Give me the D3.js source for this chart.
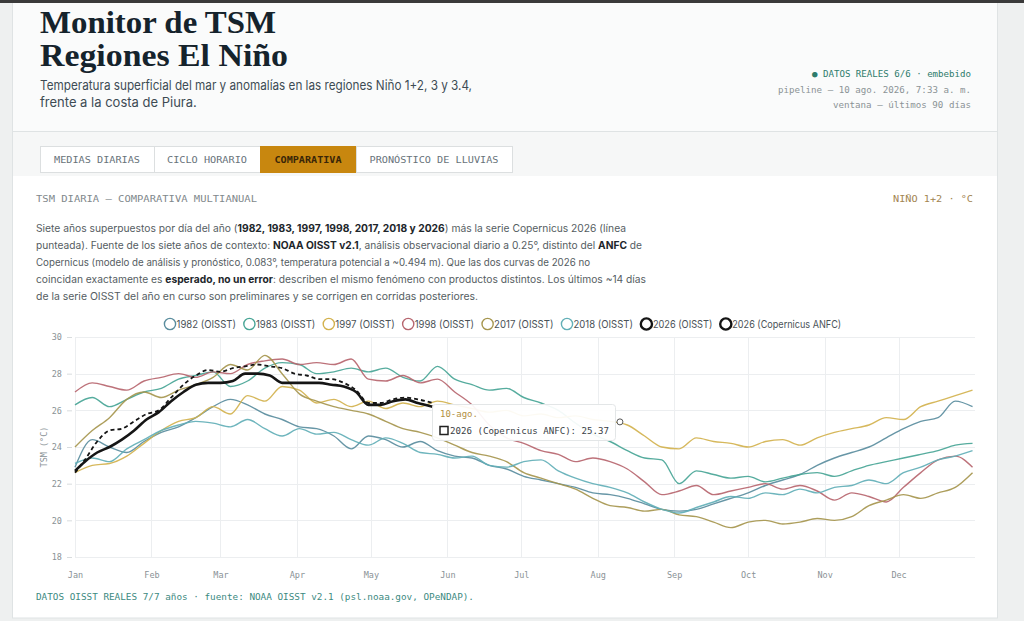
<!DOCTYPE html>
<html><head><meta charset="utf-8">
<script src="https://cdn.jsdelivr.net/npm/d3@7"></script>
<style>
html,body{margin:0;padding:0;background:#eef0f0;overflow:hidden;}
svg{display:block;}
</style></head><body>
<svg id="c" width="1024" height="621"></svg>
<script>
// ---------- DATA ----------
const days = [1,8,15,22,29,36,43,50,57,64,71,78,85,92,99,106,113,120,127,134,141,148,155,162,169,176,183,190,197,204,211,218,225,232,239,246,253,260,267,274,281,288,295,302,309,316,323,330,337,344,351,358,365];
const y1982 = [22.9,24.4,24.0,23.7,24.3,24.8,25.1,25.6,26.2,26.6,26.3,25.8,25.5,25.1,25.0,24.6,23.9,24.6,24.4,24.0,24.3,23.8,23.5,23.4,23.0,22.8,22.4,22.2,22.0,21.8,21.5,21.4,21.2,20.9,20.6,20.5,20.6,20.9,21.2,21.5,21.9,22.2,22.5,23.0,23.4,23.7,24.0,24.5,25.0,25.4,25.6,26.5,26.2];
const y1983 = [26.3,26.7,26.2,26.6,27.0,27.2,27.7,27.9,28.1,27.3,27.6,28.3,28.6,28.5,28.0,28.1,28.3,28.1,28.3,27.8,27.6,28.4,27.7,27.4,27.1,27.2,26.7,26.4,26.0,25.3,24.7,24.3,23.8,23.4,23.3,22.0,22.7,22.5,22.3,22.4,22.1,22.3,22.5,22.6,22.4,22.7,23.0,23.2,23.4,23.6,23.8,24.1,24.2];
const y1997 = [22.6,23.0,23.1,23.5,24.2,24.9,25.4,25.6,26.2,25.8,26.8,26.5,27.3,27.1,26.4,26.6,26.2,26.5,26.1,26.4,26.2,26.5,26.3,26.1,25.9,26.0,25.7,25.8,25.6,25.7,25.5,25.4,25.2,24.6,24.0,23.9,24.5,24.3,24.2,24.0,24.3,24.4,24.1,24.5,24.8,25.0,25.2,25.6,25.5,26.2,26.5,26.8,27.1];
const y1998 = [27.0,27.5,27.3,27.1,27.6,27.8,28.0,27.8,28.1,28.0,28.5,28.7,28.8,28.5,28.6,28.5,28.8,27.7,27.6,27.9,27.5,27.7,27.0,26.3,25.2,24.5,24.2,23.8,23.6,23.2,23.4,23.2,22.8,22.1,21.4,21.6,21.9,21.4,21.6,21.8,22.0,21.7,21.9,21.6,21.1,21.5,21.3,21.0,21.8,22.6,23.3,23.5,22.9];
const y2017 = [24.0,24.9,25.6,26.6,27.0,26.7,27.1,27.4,27.8,28.5,28.2,29.0,28.0,26.9,26.5,26.2,26.0,25.8,25.4,25.0,24.8,24.5,24.1,23.7,23.5,23.2,22.6,22.3,22.0,21.7,21.2,20.8,20.7,20.5,20.6,20.3,20.2,19.9,19.6,19.9,20.0,19.8,19.9,20.1,20.0,20.2,20.8,21.1,21.4,21.2,21.5,21.8,22.6];
const y2018 = [23.1,23.4,23.2,23.9,24.4,24.9,25.2,25.4,25.3,25.1,25.5,25.0,24.6,25.0,24.7,24.8,24.4,24.1,24.5,24.2,23.7,23.6,23.4,23.5,23.0,22.9,23.2,23.3,22.7,22.3,22.0,21.8,21.5,21.0,20.6,20.4,20.7,21.0,21.3,21.2,21.5,21.4,21.7,21.5,21.8,21.9,22.2,22.0,22.6,22.9,23.3,23.5,23.8];
const days2026 = [1,5,10,15,20,25,30,35,40,45,50,55,60,65,70,75,80,85,90,95,100,105,110,115,120,125,130,135,140,146];
const oisst2026 = [22.7,23.2,23.7,24.0,24.4,24.9,25.5,25.9,26.5,27.0,27.4,27.5,27.5,27.6,28.0,28.0,27.9,27.5,27.5,27.5,27.5,27.4,27.3,27.0,26.3,26.3,26.5,26.6,26.4,26.2];
const anfc2026 = [22.6,23.3,24.3,24.9,25.0,25.4,25.8,26.0,26.7,27.4,27.9,28.2,28.1,28.3,28.4,28.5,28.4,28.3,28.0,27.9,27.7,27.7,27.5,27.1,26.4,26.4,26.6,26.7,26.6,26.4];
const seriesNames = ["1982 (OISST)","1983 (OISST)","1997 (OISST)","1998 (OISST)","2017 (OISST)","2018 (OISST)","2026 (OISST)","2026 (Copernicus ANFC)"];
const seriesColors = ["#5a8d9e","#48a596","#d3b24e","#b7666f","#a6964e","#62afb7","#151515","#151515"];
const monthStarts = [1,32,60,91,121,152,182,213,244,274,305,335];
const monthLabels = ["Jan","Feb","Mar","Apr","May","Jun","Jul","Aug","Sep","Oct","Nov","Dec"];
const yTicks = [18,20,22,24,26,28,30];
const hoverDay = 222, hoverValue = 25.37, hoverLabel = "10-ago.";

// ---------- PAGE ----------
const FM = "'DejaVu Sans Mono', monospace";
const FS = "Inter, Roboto, sans-serif";
const FSER = "'Liberation Serif', serif";
const svg = d3.select('#c');

function txt(g,x,y,s,o={}) {
  const t = g.append('text').attr('x',x).attr('y',y).text(s)
    .attr('font-family', o.f||FM).attr('font-size',o.s||9).attr('fill',o.c||'#333')
    .style('white-space','pre');
  if(o.w) t.attr('font-weight',o.w);
  if(o.a) t.attr('text-anchor',o.a);
  if(o.L) t.attr('textLength',o.L).attr('lengthAdjust','spacingAndGlyphs');
  return t;
}

// backgrounds
svg.append('rect').attr('x',0).attr('y',0).attr('width',1024).attr('height',621).attr('fill','#eef0f0');
svg.append('rect').attr('x',12.5).attr('y',3).attr('width',985).attr('height',615).attr('fill','#ffffff').attr('stroke','#dfe3e4');
svg.append('rect').attr('x',13).attr('y',3).attr('width',984).attr('height',128).attr('fill','#fafbfb');
svg.append('rect').attr('x',13).attr('y',131).attr('width',984).attr('height',45).attr('fill','#f6f7f7');
svg.append('line').attr('x1',13).attr('x2',997).attr('y1',131.5).attr('y2',131.5).attr('stroke','#dfe3e4');
svg.append('rect').attr('x',0).attr('y',0).attr('width',1024).attr('height',3).attr('fill','#3a3a3a');

// title
txt(svg,40,33,"Monitor de TSM",{f:FSER,s:32,w:700,c:'#15232c',L:236});
txt(svg,40,66,"Regiones El Niño",{f:FSER,s:32,w:700,c:'#15232c',L:248});
txt(svg,40,90,"Temperatura superficial del mar y anomalías en las regiones Niño 1+2, 3 y 3.4,",{f:FS,s:13,c:'#3d4b54',L:432});
txt(svg,40,107,"frente a la costa de Piura.",{f:FS,s:13,c:'#3d4b54'});

// meta
txt(svg,971,77,"● DATOS REALES 6/6 · embebido",{s:9,a:'end',c:'#2e7c6c',L:159});
txt(svg,971,93,"pipeline — 10 ago. 2026, 7:33 a. m.",{s:9,a:'end',c:'#8b9396',L:193});
txt(svg,971,108,"ventana — últimos 90 días",{s:9,a:'end',c:'#8b9396',L:138});

// tabs
const tabs = [["MEDIAS DIARIAS",40,154,86],["CICLO HORARIO",154,260,80],["COMPARATIVA",260,356,67],["PRONÓSTICO DE LLUVIAS",356,512,129]];
tabs.forEach((t,i)=>{
  const active = i===2;
  svg.append('rect').attr('x',t[1]+0.5).attr('y',146.5).attr('width',t[2]-t[1]).attr('height',26)
    .attr('fill',active?'#c8870f':'#ffffff').attr('stroke',active?'#c8870f':'#dcdfe0');
  txt(svg,(t[1]+t[2])/2,163,t[0],{s:9,a:'middle',c:active?'#3a2608':'#68737a',w:active?700:400,L:t[3]});
});

// section header
txt(svg,36,202,"TSM DIARIA — COMPARATIVA MULTIANUAL",{s:8.5,c:'#7f888c',L:221});
txt(svg,973,202,"NIÑO 1+2 · °C",{s:8.5,a:'end',c:'#a2844f',L:80});

// paragraph (segments placed side by side, fitted to the reference line widths)
const para = [
  [[ "Siete años superpuestos por día del año (",0],["1982, 1983, 1997, 1998, 2017, 2018 y 2026",1],[") más la serie Copernicus 2026 (línea",0]],
  [[ "punteada). Fuente de los siete años de contexto: ",0],["NOAA OISST v2.1",1],[", análisis observacional diario a 0.25°, distinto del ",0],["ANFC",1],[" de",0]],
  [[ "Copernicus (modelo de análisis y pronóstico, 0.083°, temperatura potencial a ~0.494 m). Que las dos curvas de 2026 no",0]],
  [[ "coincidan exactamente es ",0],["esperado, no un error",1],[": describen el mismo fenómeno con productos distintos. Los últimos ~14 días",0]],
  [[ "de la serie OISST del año en curso son preliminares y se corrigen en corridas posteriores.",0]]
];
const paraW = [590,606,554,610,442];
const PFS = 11.2;
para.forEach((ln,i)=>{
  const els = ln.map(seg=>txt(svg,36,232+i*17,seg[0],{f:FS,s:PFS,c:seg[1]?'#1d262b':'#555d62',w:seg[1]?700:400}));
  let nat = els.map(t=>t.node().getComputedTextLength());
  let tot = d3.sum(nat);
  if (tot > paraW[i]) {           // shrink font so natural width fits
    const fs = PFS*paraW[i]/tot*0.995;
    els.forEach(t=>t.attr('font-size',fs));
    nat = els.map(t=>t.node().getComputedTextLength());
    tot = d3.sum(nat);
  }
  const k = paraW[i]/tot;
  let cx = 36;
  els.forEach((t,j)=>{
    const w = nat[j]*k;
    t.attr('x',cx).attr('textLength',w).attr('lengthAdjust','spacingAndGlyphs');
    cx += w;
  });
});

// ---------- CHART ----------
const x = d3.scaleLinear().domain([1,366]).range([75,975]);
const y = d3.scaleLinear().domain([18,30]).range([557,337]);
const g = svg.append('g');

// grid
g.selectAll('.hg').data(yTicks).enter().append('line')
  .attr('x1',75).attr('x2',975).attr('y1',d=>Math.round(y(d))+0.5).attr('y2',d=>Math.round(y(d))+0.5)
  .attr('stroke','#eceef0');
g.selectAll('.vg').data(monthStarts).enter().append('line')
  .attr('y1',337).attr('y2',557).attr('x1',d=>Math.round(x(d))+0.5).attr('x2',d=>Math.round(x(d))+0.5)
  .attr('stroke','#eceef0');

// y axis
const yAx = d3.axisLeft(y).tickValues(yTicks).tickSize(5).tickPadding(5).tickFormat(d3.format('d'));
const yg = g.append('g').attr('transform','translate(72,0)').call(yAx);
yg.select('.domain').remove();
yg.selectAll('line').attr('stroke','#d8dcde');
yg.selectAll('text').attr('font-family',FM).attr('font-size',8.5).attr('fill','#8a9296');
// x axis
const xAx = d3.axisBottom(x).tickValues(monthStarts).tickSize(0).tickPadding(12).tickFormat((d,i)=>monthLabels[i]);
const xg = g.append('g').attr('transform','translate(0,560)').call(xAx);
xg.select('.domain').remove();
xg.selectAll('text').attr('font-family',FM).attr('font-size',8.5).attr('fill','#8a9296');

txt(g,0,0,"TSM (°C)",{s:8.5,c:'#8a9296',a:'middle'}).attr('transform','translate(47,447) rotate(-90)');

// lines
const line = d3.line().x(d=>x(d[0])).y(d=>y(d[1])).curve(d3.curveMonotoneX);
const hist = [y1982,y1983,y1997,y1998,y2017,y2018];
hist.forEach((arr,i)=>{
  g.append('path').datum(days.map((d,j)=>[d,arr[j]]))
    .attr('d',line).attr('fill','none').attr('stroke',seriesColors[i])
    .attr('stroke-width',1.4).attr('stroke-opacity',0.92);
});
g.append('path').datum(days2026.map((d,j)=>[d,anfc2026[j]]))
  .attr('d',line).attr('fill','none').attr('stroke',seriesColors[7]).attr('stroke-width',1.8)
  .attr('stroke-dasharray','4,3');
g.append('path').datum(days2026.map((d,j)=>[d,oisst2026[j]]))
  .attr('d',line).attr('fill','none').attr('stroke',seriesColors[6]).attr('stroke-width',2.6);

// legend
let lx = 170;
seriesNames.forEach((n,i)=>{
  const bold = i>=6;
  g.append('circle').attr('cx',lx).attr('cy',324).attr('r',5.6).attr('fill','none')
    .attr('stroke',seriesColors[i]).attr('stroke-width',bold?2.4:1.4);
  const w = n.length*4.95;
  txt(g,lx+6.5,328,n,{f:FS,s:10.5,c:'#4a5257',L:w});
  lx = lx+6.5+w+13.5;
});

// hover + tooltip
g.append('circle').attr('cx',x(hoverDay)).attr('cy',y(hoverValue)).attr('r',3)
  .attr('fill','#fff').attr('stroke','#555').attr('stroke-width',1);
g.append('rect').attr('x',432.5).attr('y',404.5).attr('width',183).attr('height',36).attr('rx',3)
  .attr('fill','#ffffff').attr('fill-opacity',0.93).attr('stroke','#e3e6e7');
txt(g,440,417,hoverLabel,{s:9,c:'#b3913f'});
g.append('rect').attr('x',440).attr('y',426.5).attr('width',8).attr('height',8)
  .attr('fill','none').attr('stroke','#222').attr('stroke-width',1.5);
txt(g,450,434,"2026 (Copernicus ANFC): " + hoverValue.toFixed(2),{s:9,c:'#3a4146',L:159});

// footer
txt(svg,36,600,"DATOS OISST REALES 7/7 años · fuente: NOAA OISST v2.1 (psl.noaa.gov, OPeNDAP).",{s:8.5,c:'#3c8a7f',L:438});
</script>
</body></html>
